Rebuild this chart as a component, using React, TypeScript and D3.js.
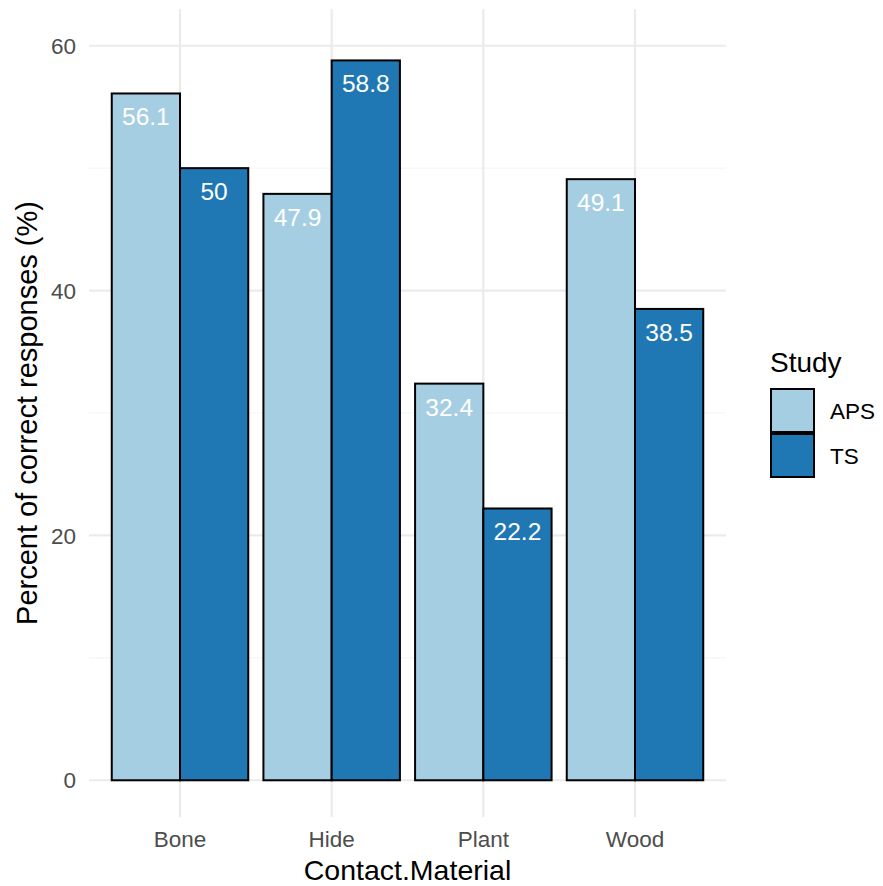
import React, { useEffect } from "react";
import * as d3 from "d3";

const categories = ["Bone", "Hide", "Plant", "Wood"];
const studies = ["APS", "TS"];
const apsValues = [56.1, 47.9, 32.4, 49.1];
const tsValues = [50, 58.8, 22.2, 38.5];
const yTicks = [0, 20, 40, 60];
const yMinorTicks = [10, 30, 50];
const colors = ["#A6CEE3", "#1F78B4"];

const W = 883;
const H = 886;
const panel = { left: 89, right: 726, top: 9, bottom: 817 };
const FONT = "'Liberation Sans', Arial, Helvetica, sans-serif";

export default function App() {
  useEffect(() => {
    document.body.style.margin = "0";
  }, []);

  const x = d3
    .scaleBand<string>()
    .domain(categories)
    .range([panel.left, panel.right])
    .paddingInner(0)
    .paddingOuter(0.1);
  const step = x.step();
  const groupW = step * 0.9;
  const xs = d3
    .scaleBand<string>()
    .domain(studies)
    .range([0, groupW])
    .padding(0);
  const y = d3.scaleLinear().domain([-3, 63]).range([panel.bottom, panel.top]);

  const series = [apsValues, tsValues];
  const bars: { cat: string; study: string; v: number; i: number }[] = [];
  categories.forEach((c, ci) => {
    studies.forEach((s, si) => {
      bars.push({ cat: c, study: s, v: series[si][ci], i: si });
    });
  });

  const center = (c: string) => (x(c) as number) + x.bandwidth() / 2;

  return (
    <svg
      width={W}
      height={H}
      style={{ position: "absolute", left: 0, top: 0, background: "#fff" }}
      fontFamily={FONT}
    >
      {/* minor gridlines */}
      {yMinorTicks.map((t) => (
        <line
          key={"mn" + t}
          x1={panel.left}
          x2={panel.right}
          y1={y(t)}
          y2={y(t)}
          stroke="#F5F5F5"
          strokeWidth={1.2}
        />
      ))}
      {/* major gridlines */}
      {yTicks.map((t) => (
        <line
          key={"mj" + t}
          x1={panel.left}
          x2={panel.right}
          y1={y(t)}
          y2={y(t)}
          stroke="#EBEBEB"
          strokeWidth={2.2}
        />
      ))}
      {categories.map((c) => (
        <line
          key={"vx" + c}
          x1={center(c)}
          x2={center(c)}
          y1={panel.top}
          y2={panel.bottom}
          stroke="#EBEBEB"
          strokeWidth={2.2}
        />
      ))}

      {/* bars */}
      {bars.map((b) => {
        const x0 = center(b.cat) - groupW / 2 + (xs(b.study) as number);
        const y0 = y(b.v);
        return (
          <g key={b.cat + b.study}>
            <rect
              x={x0}
              y={y0}
              width={xs.bandwidth()}
              height={y(0) - y0}
              fill={colors[b.i]}
              stroke="#000"
              strokeWidth={2}
            />
            <text
              x={x0 + xs.bandwidth() / 2}
              y={y0 + 32}
              textAnchor="middle"
              fill="#fff"
              fontSize={24.5}
            >
              {String(b.v)}
            </text>
          </g>
        );
      })}

      {/* y tick labels */}
      {yTicks.map((t) => (
        <text
          key={"yt" + t}
          x={76}
          y={y(t)}
          dy="0.36em"
          textAnchor="end"
          fill="#4D4D4D"
          fontSize={22.5}
        >
          {t}
        </text>
      ))}
      {/* x tick labels */}
      {categories.map((c) => (
        <text
          key={"xt" + c}
          x={center(c)}
          y={847}
          textAnchor="middle"
          fill="#4D4D4D"
          fontSize={22.5}
        >
          {c}
        </text>
      ))}

      {/* axis titles */}
      <text
        x={(panel.left + panel.right) / 2}
        y={880}
        textAnchor="middle"
        fill="#000"
        fontSize={28.5}
      >
        Contact.Material
      </text>
      <text
        transform={`translate(37, ${(panel.top + panel.bottom) / 2}) rotate(-90)`}
        textAnchor="middle"
        fill="#000"
        fontSize={29}
      >
        Percent of correct responses (%)
      </text>

      {/* legend */}
      <text x={770} y={372} fill="#000" fontSize={28}>
        Study
      </text>
      {studies.map((s, i) => (
        <g key={"lg" + s} transform={`translate(771, ${389 + i * 45})`}>
          <rect
            x={0}
            y={0}
            width={43}
            height={43}
            fill={colors[i]}
            stroke="#000"
            strokeWidth={2}
          />
          <text x={59} y={21.5} dy="0.36em" fill="#000" fontSize={22.5}>
            {s}
          </text>
        </g>
      ))}
    </svg>
  );
}
